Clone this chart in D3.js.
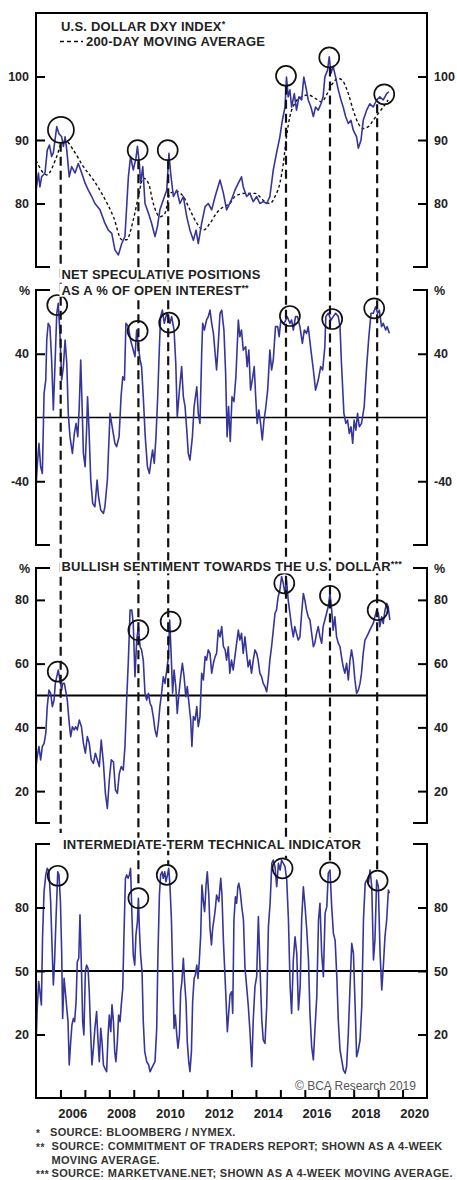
<!DOCTYPE html>
<html>
<head>
<meta charset="utf-8">
<script src="https://cdn.jsdelivr.net/npm/d3@7"></script>
<style>
  body { margin: 0; background: #fff; }
  text { font-family: "Liberation Sans", Arial, sans-serif; }
</style>
</head>
<body>
<div id="chart"></div>
<script>
// ---- data (decimal years) ----
const dxy = [[2005.00,82.0],[2005.10,84.8],[2005.16,82.6],[2005.23,84.2],[2005.37,84.8],[2005.46,88.4],[2005.55,89.2],[2005.64,87.4],[2005.71,88.0],[2005.85,92.1],[2005.94,91.0],[2006.05,90.5],[2006.12,89.0],[2006.19,90.5],[2006.26,88.4],[2006.36,84.2],[2006.46,85.8],[2006.60,84.8],[2006.73,86.3],[2006.87,84.8],[2007.01,83.2],[2007.14,82.1],[2007.28,81.1],[2007.41,80.0],[2007.62,79.0],[2007.82,76.9],[2007.96,75.8],[2008.10,75.3],[2008.23,72.7],[2008.37,71.9],[2008.51,73.7],[2008.64,74.8],[2008.78,84.2],[2008.87,87.4],[2008.98,85.3],[2009.09,87.1],[2009.15,89.0],[2009.23,86.3],[2009.28,83.2],[2009.37,85.8],[2009.46,80.0],[2009.60,78.5],[2009.73,76.9],[2009.87,74.8],[2009.97,76.4],[2010.07,79.0],[2010.21,80.6],[2010.35,82.1],[2010.44,87.9],[2010.51,84.8],[2010.62,81.1],[2010.76,82.1],[2010.89,80.0],[2011.03,81.1],[2011.17,77.9],[2011.30,75.8],[2011.44,74.2],[2011.55,75.8],[2011.64,73.7],[2011.78,76.9],[2011.92,79.5],[2012.05,80.0],[2012.19,79.0],[2012.33,81.1],[2012.53,83.7],[2012.67,81.6],[2012.80,79.0],[2013.00,80.6],[2013.14,82.1],[2013.28,83.2],[2013.41,84.2],[2013.48,82.6],[2013.62,81.1],[2013.75,81.6],[2013.89,80.3],[2014.03,81.1],[2014.16,80.0],[2014.30,80.3],[2014.44,80.0],[2014.57,81.1],[2014.71,85.3],[2014.84,87.9],[2014.98,90.5],[2015.08,93.1],[2015.19,95.2],[2015.25,99.9],[2015.32,96.8],[2015.39,97.9],[2015.46,95.2],[2015.57,97.3],[2015.66,94.7],[2015.76,96.8],[2015.87,96.3],[2015.96,99.9],[2016.04,98.4],[2016.14,96.3],[2016.25,95.2],[2016.35,93.7],[2016.44,95.2],[2016.55,94.7],[2016.66,95.7],[2016.75,96.8],[2016.82,99.9],[2016.93,101.0],[2017.00,103.1],[2017.07,100.5],[2017.16,101.6],[2017.26,99.9],[2017.37,97.9],[2017.48,96.3],[2017.57,95.2],[2017.67,93.7],[2017.78,92.6],[2017.89,93.1],[2017.98,91.6],[2018.12,90.5],[2018.19,88.7],[2018.30,90.0],[2018.39,93.1],[2018.53,94.7],[2018.66,95.7],[2018.80,95.2],[2018.94,96.3],[2019.07,96.8],[2019.21,96.3],[2019.35,97.3],[2019.44,97.6]];

const dxyMA = [[2005.00,86.8],[2005.44,84.5],[2005.85,87.4],[2006.05,89.5],[2006.26,89.7],[2006.53,88.4],[2006.94,85.8],[2007.35,83.7],[2007.76,81.1],[2008.17,77.9],[2008.51,74.3],[2008.71,74.3],[2008.98,77.4],[2009.19,81.1],[2009.39,84.0],[2009.60,83.2],[2009.80,80.0],[2010.07,77.9],[2010.28,78.5],[2010.48,81.6],[2010.76,81.9],[2011.03,81.1],[2011.30,79.0],[2011.58,76.9],[2011.85,75.8],[2012.12,76.9],[2012.39,78.5],[2012.67,79.5],[2012.94,80.0],[2013.14,81.1],[2013.55,81.6],[2013.96,81.6],[2014.37,80.3],[2014.57,80.0],[2014.78,81.1],[2014.98,83.2],[2015.12,86.3],[2015.25,90.5],[2015.39,93.7],[2015.59,95.8],[2015.87,96.8],[2016.14,97.1],[2016.41,96.6],[2016.69,96.0],[2016.89,97.1],[2017.10,98.7],[2017.37,99.7],[2017.57,99.2],[2017.78,97.3],[2017.98,94.7],[2018.19,92.6],[2018.39,91.8],[2018.60,92.1],[2018.80,93.1],[2019.01,94.2],[2019.21,95.2],[2019.41,96.3]];

const netSpec = [[2005.00,-43.4],[2005.05,-30.9],[2005.12,-16.2],[2005.19,-30.9],[2005.26,-35.1],[2005.33,15.1],[2005.40,23.5],[2005.44,48.6],[2005.50,59.1],[2005.57,57.0],[2005.64,36.1],[2005.71,4.7],[2005.78,34.0],[2005.85,65.4],[2005.91,71.6],[2005.98,52.8],[2006.05,23.5],[2006.12,31.9],[2006.19,48.6],[2006.26,34.0],[2006.32,2.6],[2006.39,-12.0],[2006.49,-22.5],[2006.57,-10.0],[2006.64,-3.7],[2006.71,-12.0],[2006.77,6.8],[2006.83,36.1],[2006.88,11.0],[2006.94,-22.5],[2007.01,-30.9],[2007.07,-7.9],[2007.11,13.0],[2007.17,-7.9],[2007.24,-39.2],[2007.32,-53.9],[2007.41,-56.0],[2007.50,-39.2],[2007.56,-49.7],[2007.65,-58.1],[2007.76,-60.2],[2007.82,-56.0],[2007.92,-39.2],[2008.03,2.6],[2008.14,-7.9],[2008.23,-16.2],[2008.30,-18.3],[2008.40,-12.0],[2008.48,13.0],[2008.55,25.6],[2008.62,23.5],[2008.68,59.1],[2008.78,57.0],[2008.87,48.6],[2008.98,42.3],[2009.05,38.2],[2009.12,54.9],[2009.19,44.4],[2009.26,36.1],[2009.32,31.9],[2009.39,13.0],[2009.47,-12.0],[2009.56,-30.9],[2009.64,-35.1],[2009.71,-26.7],[2009.77,-20.4],[2009.84,-28.8],[2009.91,-12.0],[2009.98,13.0],[2010.05,44.4],[2010.10,63.3],[2010.17,67.4],[2010.25,59.1],[2010.35,65.4],[2010.42,63.3],[2010.48,59.1],[2010.55,63.3],[2010.65,54.9],[2010.72,34.0],[2010.78,0.4],[2010.87,17.2],[2010.96,31.9],[2011.03,13.0],[2011.10,6.8],[2011.17,-7.9],[2011.23,-22.5],[2011.30,-26.7],[2011.40,-12.0],[2011.47,6.8],[2011.58,19.3],[2011.64,2.6],[2011.71,-3.7],[2011.78,40.2],[2011.82,59.1],[2011.89,54.9],[2011.98,61.2],[2012.05,63.3],[2012.12,67.4],[2012.19,59.1],[2012.26,52.8],[2012.33,40.2],[2012.39,29.8],[2012.46,46.5],[2012.53,65.4],[2012.60,67.4],[2012.69,54.9],[2012.76,27.7],[2012.82,-12.0],[2012.88,6.8],[2012.95,-15.0],[2013.02,13.0],[2013.10,10.0],[2013.18,25.6],[2013.28,61.2],[2013.34,50.7],[2013.41,54.9],[2013.48,42.3],[2013.58,44.4],[2013.64,31.9],[2013.71,42.3],[2013.78,17.2],[2013.85,23.5],[2013.93,31.9],[2013.99,13.0],[2014.05,-3.7],[2014.12,4.7],[2014.19,-3.7],[2014.26,-14.1],[2014.33,-1.6],[2014.39,4.7],[2014.48,17.2],[2014.57,42.3],[2014.64,29.8],[2014.71,36.1],[2014.80,57.0],[2014.89,57.0],[2014.95,50.7],[2015.02,61.2],[2015.12,59.1],[2015.19,60.1],[2015.28,63.3],[2015.39,59.1],[2015.46,61.2],[2015.53,54.9],[2015.62,63.3],[2015.70,63.3],[2015.80,57.0],[2015.90,46.5],[2015.98,54.9],[2016.07,52.8],[2016.14,57.0],[2016.25,42.3],[2016.35,29.8],[2016.44,17.2],[2016.55,23.5],[2016.65,31.9],[2016.73,29.8],[2016.82,44.4],[2016.86,63.3],[2016.96,65.4],[2017.07,61.2],[2017.16,63.3],[2017.26,65.4],[2017.37,63.3],[2017.44,57.0],[2017.50,34.0],[2017.60,2.6],[2017.68,-3.7],[2017.75,-1.6],[2017.82,-10.0],[2017.89,-5.8],[2017.96,-16.2],[2018.02,-1.6],[2018.09,-7.9],[2018.16,2.6],[2018.23,-5.8],[2018.32,-3.7],[2018.43,6.8],[2018.53,31.9],[2018.62,50.7],[2018.71,65.4],[2018.80,65.4],[2018.90,69.5],[2018.98,65.4],[2019.05,67.4],[2019.14,57.0],[2019.21,59.1],[2019.31,54.9],[2019.37,57.0],[2019.46,52.8]];

const sentiment = [[2005.00,27.7],[2005.05,30.8],[2005.12,34.0],[2005.19,29.8],[2005.26,34.0],[2005.33,35.0],[2005.40,38.1],[2005.46,46.5],[2005.53,51.7],[2005.60,50.7],[2005.67,46.5],[2005.74,48.6],[2005.79,53.8],[2005.85,55.9],[2005.91,58.0],[2005.98,54.9],[2006.05,51.7],[2006.09,53.8],[2006.16,53.8],[2006.21,51.7],[2006.28,48.6],[2006.36,41.3],[2006.42,37.1],[2006.49,40.2],[2006.56,39.2],[2006.62,40.2],[2006.69,39.2],[2006.77,42.3],[2006.86,40.2],[2006.94,35.0],[2007.02,31.9],[2007.10,37.1],[2007.18,35.0],[2007.26,29.8],[2007.35,28.7],[2007.43,31.9],[2007.51,29.8],[2007.59,27.7],[2007.67,36.0],[2007.76,28.7],[2007.84,19.3],[2007.92,14.6],[2008.00,23.5],[2008.08,29.8],[2008.17,29.2],[2008.25,20.4],[2008.33,19.3],[2008.41,25.6],[2008.49,27.7],[2008.57,26.6],[2008.64,34.0],[2008.71,48.6],[2008.78,61.1],[2008.85,76.8],[2008.92,76.8],[2008.98,72.6],[2009.05,55.9],[2009.12,67.4],[2009.19,71.6],[2009.26,65.3],[2009.32,64.3],[2009.39,61.1],[2009.46,50.7],[2009.53,48.6],[2009.60,50.7],[2009.67,47.5],[2009.73,46.5],[2009.80,43.4],[2009.87,39.2],[2009.94,37.1],[2010.01,41.3],[2010.07,46.5],[2010.14,50.7],[2010.21,55.9],[2010.28,53.8],[2010.35,58.0],[2010.42,62.2],[2010.47,73.7],[2010.53,63.2],[2010.59,50.7],[2010.65,58.0],[2010.72,52.8],[2010.78,44.4],[2010.85,50.7],[2010.92,55.9],[2010.99,60.1],[2011.06,55.9],[2011.13,49.6],[2011.19,52.8],[2011.26,47.5],[2011.33,42.3],[2011.38,34.0],[2011.44,43.4],[2011.51,42.3],[2011.58,46.5],[2011.64,40.2],[2011.71,43.4],[2011.78,57.0],[2011.85,54.9],[2011.92,62.2],[2011.98,61.1],[2012.05,64.3],[2012.12,63.2],[2012.19,57.0],[2012.26,60.1],[2012.33,62.2],[2012.39,63.2],[2012.46,70.5],[2012.53,68.4],[2012.60,71.6],[2012.67,65.3],[2012.74,64.3],[2012.80,61.1],[2012.87,65.3],[2012.93,57.0],[2013.00,61.1],[2013.07,58.0],[2013.14,62.2],[2013.21,66.4],[2013.28,70.5],[2013.34,67.4],[2013.41,69.5],[2013.48,63.2],[2013.55,68.4],[2013.62,63.2],[2013.68,59.0],[2013.75,61.1],[2013.82,57.0],[2013.89,61.1],[2013.96,64.3],[2014.03,63.2],[2014.09,61.1],[2014.16,57.0],[2014.23,55.9],[2014.30,53.8],[2014.37,52.8],[2014.44,51.2],[2014.50,54.9],[2014.57,61.1],[2014.64,65.3],[2014.71,70.5],[2014.78,75.8],[2014.84,76.8],[2014.91,81.0],[2014.98,83.1],[2015.05,87.3],[2015.12,85.2],[2015.19,82.0],[2015.25,86.2],[2015.32,80.0],[2015.39,75.8],[2015.46,71.6],[2015.53,68.4],[2015.59,71.6],[2015.66,69.5],[2015.73,67.4],[2015.80,68.4],[2015.87,75.8],[2015.94,82.0],[2016.00,80.0],[2016.07,76.8],[2016.14,74.7],[2016.21,73.7],[2016.28,69.5],[2016.35,65.3],[2016.41,66.4],[2016.48,69.5],[2016.55,71.6],[2016.62,68.4],[2016.69,66.4],[2016.75,71.6],[2016.82,73.7],[2016.89,75.8],[2016.96,77.9],[2017.03,82.0],[2017.10,76.8],[2017.16,70.5],[2017.23,74.7],[2017.30,68.4],[2017.37,66.4],[2017.44,65.3],[2017.50,62.2],[2017.57,59.0],[2017.64,57.0],[2017.71,60.1],[2017.78,54.9],[2017.85,61.1],[2017.91,64.3],[2017.98,61.1],[2018.05,54.9],[2018.12,50.7],[2018.19,51.7],[2018.26,53.8],[2018.32,57.0],[2018.39,63.2],[2018.46,67.4],[2018.53,68.4],[2018.60,69.5],[2018.66,70.5],[2018.73,71.6],[2018.80,72.6],[2018.87,74.7],[2018.94,76.8],[2019.01,75.8],[2019.07,71.6],[2019.14,74.7],[2019.21,72.6],[2019.28,76.8],[2019.35,78.9],[2019.41,77.9],[2019.48,73.7]];

const technical = [[2005.00,13.5],[2005.05,32.4],[2005.11,45.0],[2005.16,40.2],[2005.22,34.0],[2005.27,67.0],[2005.33,87.5],[2005.40,95.4],[2005.46,98.5],[2005.53,96.9],[2005.60,82.8],[2005.65,63.9],[2005.71,43.4],[2005.76,54.4],[2005.82,74.9],[2005.89,96.9],[2005.94,95.4],[2006.00,82.8],[2006.05,59.1],[2006.09,27.6],[2006.15,46.5],[2006.20,40.2],[2006.26,32.4],[2006.31,26.1],[2006.36,5.6],[2006.42,16.6],[2006.47,24.5],[2006.53,27.6],[2006.58,26.1],[2006.64,35.5],[2006.69,54.4],[2006.75,56.0],[2006.80,76.5],[2006.86,51.2],[2006.91,26.1],[2006.96,19.8],[2007.02,49.6],[2007.07,52.8],[2007.13,51.2],[2007.18,40.2],[2007.24,19.8],[2007.29,5.6],[2007.35,13.5],[2007.41,22.9],[2007.48,30.8],[2007.54,16.6],[2007.59,7.2],[2007.65,22.9],[2007.70,16.6],[2007.76,5.6],[2007.82,4.0],[2007.89,2.4],[2007.95,19.8],[2008.00,29.2],[2008.06,21.3],[2008.11,34.0],[2008.17,26.1],[2008.22,11.9],[2008.27,7.2],[2008.33,16.6],[2008.38,29.2],[2008.44,26.1],[2008.49,34.0],[2008.55,41.8],[2008.60,67.0],[2008.66,93.8],[2008.71,95.4],[2008.77,93.8],[2008.82,95.4],[2008.87,98.5],[2008.93,74.9],[2008.98,57.6],[2009.04,52.8],[2009.09,67.0],[2009.15,73.3],[2009.19,84.3],[2009.23,70.2],[2009.28,57.6],[2009.34,49.7],[2009.39,26.1],[2009.45,11.9],[2009.53,7.2],[2009.61,5.6],[2009.67,2.4],[2009.73,4.0],[2009.80,5.6],[2009.87,7.2],[2009.94,22.9],[2009.99,57.6],[2010.05,85.9],[2010.10,95.4],[2010.16,96.9],[2010.21,93.8],[2010.27,96.9],[2010.32,92.2],[2010.38,95.4],[2010.43,98.5],[2010.48,90.6],[2010.54,74.9],[2010.59,51.2],[2010.65,22.9],[2010.70,29.2],[2010.76,19.8],[2010.81,13.5],[2010.87,19.8],[2010.92,40.2],[2010.97,45.0],[2011.03,56.0],[2011.08,45.0],[2011.14,35.5],[2011.19,16.6],[2011.25,7.2],[2011.30,2.4],[2011.36,11.9],[2011.41,35.5],[2011.47,46.5],[2011.52,48.1],[2011.58,52.8],[2011.63,46.5],[2011.68,54.4],[2011.74,67.0],[2011.79,90.6],[2011.85,82.8],[2011.90,78.0],[2011.96,90.6],[2012.01,96.9],[2012.07,85.9],[2012.12,70.2],[2012.18,62.3],[2012.23,70.2],[2012.29,74.9],[2012.34,79.6],[2012.39,85.9],[2012.48,82.8],[2012.56,93.8],[2012.61,85.9],[2012.67,63.9],[2012.72,51.2],[2012.78,35.5],[2012.83,21.3],[2012.88,29.2],[2012.94,38.7],[2013.01,40.2],[2013.05,30.0],[2013.10,74.1],[2013.16,85.1],[2013.21,82.0],[2013.26,89.8],[2013.30,91.4],[2013.35,88.3],[2013.42,80.4],[2013.49,74.1],[2013.55,52.0],[2013.62,42.6],[2013.69,33.1],[2013.76,20.6],[2013.83,4.8],[2013.89,26.9],[2013.96,42.6],[2014.03,47.3],[2014.10,75.7],[2014.17,50.5],[2014.24,26.9],[2014.30,17.4],[2014.37,15.8],[2014.44,33.1],[2014.51,70.9],[2014.58,82.0],[2014.65,100.9],[2014.71,102.4],[2014.78,99.3],[2014.85,89.8],[2014.92,100.9],[2014.99,97.7],[2015.05,102.4],[2015.12,100.9],[2015.19,99.3],[2015.26,93.0],[2015.33,74.1],[2015.40,42.6],[2015.46,30.0],[2015.53,55.2],[2015.60,66.2],[2015.67,58.3],[2015.74,31.6],[2015.81,42.6],[2015.87,74.1],[2015.94,89.8],[2016.01,80.4],[2016.08,69.4],[2016.15,55.2],[2016.21,30.0],[2016.28,14.3],[2016.35,8.0],[2016.42,23.7],[2016.49,37.9],[2016.56,74.1],[2016.62,82.0],[2016.69,58.3],[2016.76,47.3],[2016.83,77.2],[2016.90,80.4],[2016.96,96.1],[2017.03,97.7],[2017.10,80.4],[2017.17,67.8],[2017.24,64.6],[2017.31,47.3],[2017.37,26.9],[2017.44,12.7],[2017.51,8.0],[2017.58,3.2],[2017.65,1.7],[2017.71,4.8],[2017.78,20.6],[2017.85,42.6],[2017.92,63.1],[2017.99,58.3],[2018.06,33.1],[2018.12,9.5],[2018.19,12.7],[2018.26,17.4],[2018.33,33.1],[2018.40,74.1],[2018.47,91.4],[2018.53,93.0],[2018.60,91.4],[2018.67,97.7],[2018.74,89.8],[2018.81,55.2],[2018.87,64.6],[2018.94,93.0],[2019.01,89.8],[2019.08,58.3],[2019.15,41.0],[2019.22,53.6],[2019.28,66.2],[2019.35,74.1],[2019.42,88.3],[2019.46,86.7]];

// circled peaks, one per panel: [year, value]
const dxyPeaks  = [[2006.02,91.6],[2009.16,88.4],[2010.39,88.4],[2015.23,100.1],[2017.00,103.0],[2019.25,97.2]];
const specPeaks = [[2005.87,70.6],[2009.16,54.3],[2010.45,59.5],[2015.39,63.7],[2017.12,61.8],[2018.84,68.5]];
const sentPeaks = [[2005.89,57.5],[2009.19,70.5],[2010.51,73.2],[2015.16,85.2],[2017.03,81.3],[2018.98,76.8]];
const techPeaks = [[2005.89,95.0],[2009.19,84.4],[2010.35,95.4],[2015.09,98.5],[2017.03,96.6],[2018.98,92.7]];
const markerYears = [2006.01, 2009.19, 2010.41, 2015.23, 2017.03, 2018.96];

const dxyTicks = [80, 90, 100];
const specTicks = [-40, 0, 40];
const sentTicks = [20, 40, 60, 80];
const techTicks = [20, 50, 80];
const tickYears = [2006, 2007, 2008, 2009, 2010, 2011, 2012, 2013, 2014, 2015, 2016, 2017, 2018, 2019, 2020];
const labelYears = [2006, 2008, 2010, 2012, 2014, 2016, 2018, 2020];

const footnotes = [
    ['*', 'SOURCE: BLOOMBERG / NYMEX.'],
    ['**', 'SOURCE: COMMITMENT OF TRADERS REPORT; SHOWN AS A 4-WEEK'],
    ['', 'MOVING AVERAGE.'],
    ['***', 'SOURCE: MARKETVANE.NET; SHOWN AS A 4-WEEK MOVING AVERAGE.'],
];

// ---- layout ----
const W = 457, H = 1180;
const left = 36, right = 427;
const blue = '#36369a';
const font = '"Liberation Sans", Arial, sans-serif';

const svg = d3.select('#chart').append('svg')
    .attr('width', W).attr('height', H);

const x = d3.scaleLinear().domain([2005, 2021]).range([left, right]);

const panels = [
    { top: 13, bottom: 267, domain: [70, 110], ticks: dxyTicks, series: dxy, peaks: dxyPeaks, full: 'top' },
    { top: 290, bottom: 545, domain: [-80, 80], ticks: specTicks.filter(t => t !== 0), series: netSpec, peaks: specPeaks, ref: 0, refW: 1.6, pct: true },
    { top: 568, bottom: 823, domain: [10, 90], ticks: sentTicks, series: sentiment, peaks: sentPeaks, ref: 50, refW: 2, pct: true },
    { top: 844, bottom: 1098, domain: [-10, 110], ticks: techTicks, series: technical, peaks: techPeaks, ref: 50, refW: 2.2, full: 'bottom' },
];
panels.forEach(p => {
    p.y = d3.scaleLinear().domain(p.domain).range([p.bottom, p.top]);
});

const layerLines = svg.append('g');
const layerMarks = svg.append('g');
const layerText = svg.append('g');

panels.forEach((p, i) => {
    const g = layerLines.append('g');

    // reference line
    if (p.ref !== undefined) {
        g.append('line')
            .attr('x1', left).attr('x2', right)
            .attr('y1', p.y(p.ref)).attr('y2', p.y(p.ref))
            .attr('stroke', '#000').attr('stroke-width', p.refW);
    }

    // moving average for the DXY panel
    if (i === 0) {
        g.append('path')
            .datum(dxyMA)
            .attr('fill', 'none')
            .attr('stroke', '#111')
            .attr('stroke-width', 1.4)
            .attr('stroke-dasharray', '3,2.5')
            .attr('d', d3.line().curve(d3.curveMonotoneX).x(d => x(d[0])).y(d => p.y(d[1])));
    }

    g.append('path')
        .datum(p.series)
        .attr('fill', 'none')
        .attr('stroke', blue)
        .attr('stroke-width', 1.6)
        .attr('stroke-linejoin', 'round')
        .attr('d', d3.line().x(d => x(d[0])).y(d => p.y(d[1])));

    // y axes, ticks pointing inward
    const axL = g.append('g').attr('transform', 'translate(' + left + ',0)')
        .call(d3.axisLeft(p.y).tickValues(p.ticks).tickFormat(d => String(d)).tickSize(-9).tickPadding(7));
    const axR = g.append('g').attr('transform', 'translate(' + right + ',0)')
        .call(d3.axisRight(p.y).tickValues(p.ticks).tickFormat(d => String(d)).tickSize(-9).tickPadding(7));
    [axL, axR].forEach(ax => {
        ax.select('.domain').remove();
        ax.selectAll('line').attr('stroke', '#000').attr('stroke-width', 2);
        ax.selectAll('text').attr('font-family', font).attr('font-weight', 'bold')
            .attr('font-size', 12.5).attr('fill', '#222');
    });

    // frame: verticals plus corner pieces (full line at the very top / bottom)
    const f = g.append('g').attr('stroke', '#000').attr('stroke-width', 2).attr('fill', 'none');
    f.append('line').attr('x1', left).attr('x2', left).attr('y1', p.top).attr('y2', p.bottom);
    f.append('line').attr('x1', right).attr('x2', right).attr('y1', p.top).attr('y2', p.bottom);
    [['top', p.top], ['bottom', p.bottom]].forEach(([side, yy]) => {
        if (p.full === side) {
            f.append('line').attr('x1', left - 1).attr('x2', right + 1).attr('y1', yy).attr('y2', yy);
        } else {
            f.append('line').attr('x1', left - 1).attr('x2', left + 14).attr('y1', yy).attr('y2', yy);
            f.append('line').attr('x1', right - 14).attr('x2', right + 1).attr('y1', yy).attr('y2', yy);
        }
    });

    if (p.pct) {
        layerText.append('text').attr('x', left - 6).attr('y', p.top + 4.5)
            .attr('text-anchor', 'end').attr('font-size', 12.5).attr('font-weight', 'bold')
            .attr('fill', '#222').text('%');
        layerText.append('text').attr('x', right + 7).attr('y', p.top + 4.5)
            .attr('font-size', 12.5).attr('font-weight', 'bold').attr('fill', '#222').text('%');
    }

    // circled peaks
    layerMarks.append('g').selectAll('circle')
        .data(p.peaks)
        .join('circle')
        .attr('cx', d => x(d[0]))
        .attr('cy', d => p.y(d[1]))
        .attr('r', (d, j) => (i === 0 && j === 0) ? 13 : 10)
        .attr('fill', 'none')
        .attr('stroke', '#111')
        .attr('stroke-width', 1.7);
});

// dashed verticals linking the peaks
const p1 = panels[0], p3 = panels[2], p4 = panels[3];
layerMarks.append('g').selectAll('line')
    .data(markerYears)
    .join('line')
    .attr('x1', d => x(d)).attr('x2', d => x(d))
    .attr('y1', (d, j) => p1.y(dxyPeaks[j][1]) + (j === 0 ? 13 : 10))
    .attr('y2', (d, j) => j === 0 ? p3.bottom + 10 : p4.y(techPeaks[j][1]) - 10)
    .attr('stroke', '#111')
    .attr('stroke-width', 2.2)
    .attr('stroke-dasharray', '9,5');

// x axis at the bottom of the last panel
const xa = layerLines.append('g').attr('transform', 'translate(0,' + p4.bottom + ')')
    .call(d3.axisBottom(x).tickValues(tickYears).tickSize(-8).tickFormat(''));
xa.select('.domain').remove();
xa.selectAll('line').attr('stroke', '#000').attr('stroke-width', 2);

layerText.append('g').selectAll('text')
    .data(labelYears)
    .join('text')
    .attr('x', d => x(d + 0.5))
    .attr('y', p4.bottom + 19.5)
    .attr('text-anchor', 'middle')
    .attr('font-size', 13).attr('font-weight', 'bold').attr('fill', '#222')
    .text(d => d);

// titles with a white backing so the dashed lines break around them
function title(xx, yy, str, sup) {
    const t = layerText.append('text').attr('x', xx).attr('y', yy)
        .attr('font-size', 13).attr('font-weight', 'bold').attr('fill', '#222')
        .attr('letter-spacing', 0.2);
    t.append('tspan').text(str);
    if (sup) t.append('tspan').attr('font-size', 9).attr('dy', -4).text(sup);
    const b = t.node().getBBox();
    layerText.insert('rect', () => t.node())
        .attr('x', b.x - 2).attr('y', b.y + 1).attr('width', b.width + 4).attr('height', b.height - 2)
        .attr('fill', '#fff');
    return t;
}

title(61, 30.7, 'U.S. DOLLAR DXY INDEX', '*');
title(86, 46.4, '200-DAY MOVING AVERAGE');
layerText.append('line')
    .attr('x1', 60).attr('x2', 83).attr('y1', 41.5).attr('y2', 41.5)
    .attr('stroke', '#111').attr('stroke-width', 1.6).attr('stroke-dasharray', '4,3');
title(61.5, 278.7, 'NET SPECULATIVE POSITIONS');
title(61.5, 294.7, 'AS A % OF OPEN INTEREST', '**');
title(61.5, 571.4, 'BULLISH SENTIMENT TOWARDS THE U.S. DOLLAR', '***');
title(63, 848.7, 'INTERMEDIATE-TERM TECHNICAL INDICATOR');

layerText.append('text')
    .attr('x', 295).attr('y', p4.bottom - 8)
    .attr('font-size', 12).attr('fill', '#555')
    .text('\u00A9 BCA Research 2019');

// footnotes
const fn = layerText.append('g').attr('font-size', 11).attr('font-weight', 'bold')
    .attr('fill', '#333').attr('letter-spacing', 0.3);
footnotes.forEach((d, j) => {
    const yy = 1135.7 + j * 13.9;
    fn.append('text').attr('x', 36).attr('y', yy + 1).attr('font-size', 10).attr('letter-spacing', 0.5).text(d[0]);
    fn.append('text').attr('x', j === 0 ? 50 : 51.5).attr('y', yy).text(d[1]);
});
</script>
</body>
</html>
